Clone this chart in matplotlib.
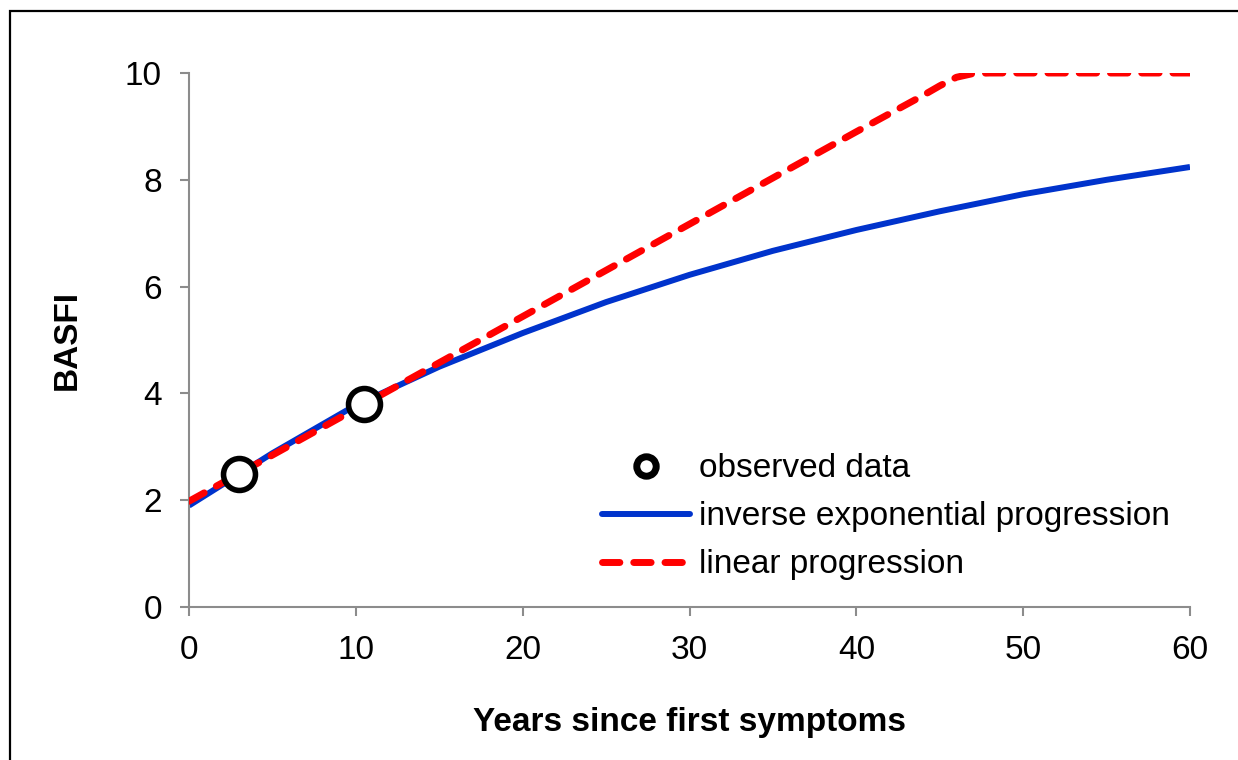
import numpy as np
import matplotlib
matplotlib.use('Agg')
import matplotlib.pyplot as plt
from matplotlib.lines import Line2D
from matplotlib.patches import Rectangle

# 数据
obs_years = [3, 10.5]
obs_basfi = [2.5, 3.8]

exp_years = [0, 5, 10, 15, 20, 25, 30, 35, 40, 45, 50, 55, 60]
exp_basfi = [1.90, 2.88, 3.78, 4.50, 5.13, 5.71, 6.22, 6.67, 7.06, 7.41, 7.73, 8.00, 8.24]

lin_years = [0, 10, 20, 30, 40, 44, 45, 46, 47, 48, 50, 55, 60]
lin_basfi = [1.98, 3.71, 5.44, 7.17, 8.90, 9.58, 9.76, 9.92, 9.99, 10.0, 10.0, 10.0, 10.0]

x_ticks = [0, 10, 20, 30, 40, 50, 60]
y_ticks = [0, 2, 4, 6, 8, 10]

plt.rcParams['font.family'] = ['Liberation Sans', 'DejaVu Sans']

fig = plt.figure(figsize=(12.38, 7.60), dpi=100)
ax = fig.add_axes([189 / 1238, 1 - 607 / 760, (1190 - 189) / 1238, (607 - 73) / 760])

blue = '#0033CC'
red = '#FF0000'
grey = '#8C8C8C'

ax.plot(exp_years, exp_basfi, color=blue, linewidth=4.3, solid_capstyle='butt', zorder=2)
ax.plot(lin_years, lin_basfi, color=red, linewidth=5, linestyle=(0, (2.5, 2.0)),
        dash_capstyle='round', zorder=3)
ax.plot(obs_years, obs_basfi, linestyle='none', marker='o', markersize=23,
        markerfacecolor='white', markeredgecolor='black', markeredgewidth=4, zorder=4)

ax.set_xlim(0, 60)
ax.set_ylim(0, 10)
ax.set_xticks(x_ticks)
ax.set_yticks(y_ticks)

for side in ['top', 'right']:
    ax.spines[side].set_visible(False)
for side in ['left', 'bottom']:
    ax.spines[side].set_color(grey)
    ax.spines[side].set_linewidth(1.5)

ax.tick_params(axis='both', direction='out', length=6.5, width=1.5, color=grey, labelsize=24)
ax.tick_params(axis='y', pad=13)
ax.tick_params(axis='x', pad=14)

ax.set_xlabel('Years since first symptoms', fontsize=24, fontweight='bold', labelpad=29)
ax.set_ylabel('BASFI', fontsize=24, fontweight='bold', labelpad=30)

# 图例
handles = [
    Line2D([], [], linestyle='none', marker='o', markersize=14, markerfacecolor='white',
           markeredgecolor='black', markeredgewidth=5),
    Line2D([], [], color=blue, linewidth=4.3, solid_capstyle='round'),
    Line2D([], [], color=red, linewidth=5, linestyle=(0, (2.5, 2.0)), dash_capstyle='round'),
]
labels = ['observed data', 'inverse exponential progression', 'linear progression']
ax.legend(handles, labels, loc='upper left', bbox_to_anchor=(589 / 1238, 1 - 440 / 760),
          bbox_transform=fig.transFigure, frameon=False, fontsize=24, handlelength=2.64,
          handletextpad=0.25, labelspacing=0.51, borderaxespad=0)

# 外框
fig.add_artist(Rectangle((9.5 / 1238, -0.5), 2, 1.5 - 11 / 760, transform=fig.transFigure,
                         fill=False, edgecolor='black', linewidth=1.6))

plt.savefig('out.png', dpi=100)
